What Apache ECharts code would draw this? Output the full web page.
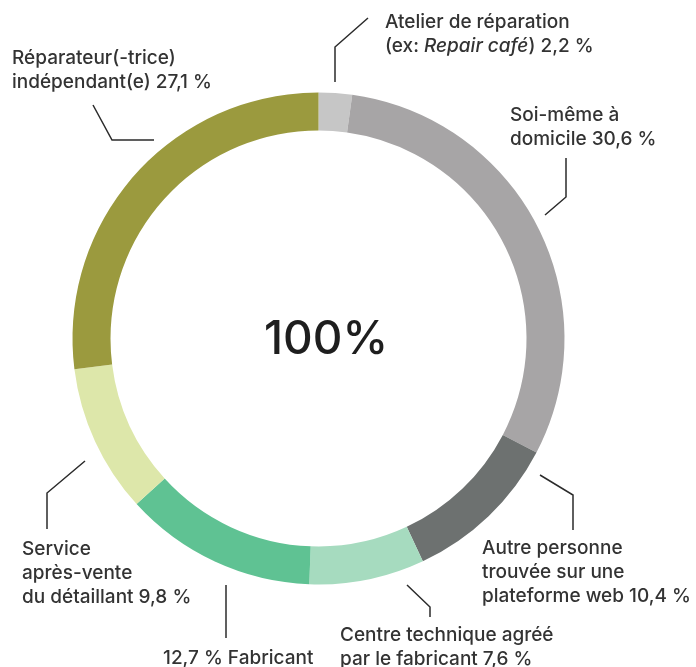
<!DOCTYPE html>
<html>
<head>
<meta charset="utf-8">
<script src="https://cdn.jsdelivr.net/npm/echarts@6/dist/echarts.min.js"></script>
<style>
  html, body { margin: 0; padding: 0; background: #fff; }
  #chart { width: 696px; height: 667px; }
</style>
</head>
<body>
<div id="chart"></div>
<script>
// categories, clockwise from the top
const categories = [
  'Atelier de réparation (ex: Repair café)',
  'Soi-même à domicile',
  'Autre personne trouvée sur une plateforme web',
  'Centre technique agréé par le fabricant',
  'Fabricant',
  'Service après-vente du détaillant',
  'Réparateur(-trice) indépendant(e)'
];
const values = [2.2, 30.6, 10.4, 7.6, 12.7, 9.8, 27.1];
const colors = ['#c6c6c6', '#a7a5a6', '#6d7170', '#a6dbbf', '#5fc293', '#dde7aa', '#9b9a3e'];

// label text, {v} = value
const labelTemplates = [
  'Atelier de réparation\n(ex: {i|Repair café}) {v}',
  'Soi-même à\ndomicile {v}',
  'Autre personne\ntrouvée sur une\nplateforme web {v}',
  'Centre technique agréé\npar le fabricant {v}',
  '{v} Fabricant',
  'Service\naprès-vente\ndu détaillant {v}',
  'Réparateur(-trice)\nindépendant(e) {v}'
];

// top-left of each label block
const labelPos = [[385, 10], [510, 103], [482, 536], [340, 623], [163, 646], [22, 537], [12, 46]];
// leader lines
const leaders = [
  [[335, 82], [335, 47], [368, 18]],
  [[545, 215], [566, 197], [566, 158]],
  [[540, 475], [573, 495], [573, 530]],
  [[407, 585], [430, 607], [430, 617]],
  [[226, 585], [226, 610], [226, 638]],
  [[85, 461], [47, 493], [47, 529]],
  [[154, 140], [112, 140], [93, 105]]
];

const fmt = v => v.toFixed(1).replace('.', ',') + ' %';

var myChart = echarts.init(document.getElementById('chart'));
myChart.setOption({
  animation: false,
  graphic: [{
    type: 'text',
    x: 326,
    y: 340,
    style: {
      text: '100%',
      fontFamily: 'Inter',
      fontSize: 46,
      fontWeight: 500,
      fill: '#1e1e1e',
      align: 'center',
      verticalAlign: 'middle'
    }
  }],
  series: [{
    type: 'pie',
    center: [318.5, 338.5],
    radius: [208, 246],
    startAngle: 90,
    clockwise: true,
    avoidLabelOverlap: false,
    data: values.map((v, i) => ({
      name: categories[i],
      value: v,
      itemStyle: { color: colors[i] }
    })),
    label: {
      show: true,
      position: 'outside',
      formatter: p => labelTemplates[p.dataIndex].replace('{v}', fmt(p.value)),
      fontFamily: 'Inter',
      fontSize: 19,
      fontWeight: 500,
      lineHeight: 24,
      color: '#333',
      align: 'left',
      rich: {
        i: {
          fontFamily: 'Inter',
          fontSize: 19,
          fontWeight: 500,
          lineHeight: 24,
          fontStyle: 'italic',
          color: '#333'
        }
      }
    },
    labelLine: {
      show: true,
      lineStyle: { color: '#2b2b2b', width: 1.5 }
    },
    labelLayout: p => {
      const i = p.dataIndex;
      return {
        x: labelPos[i][0],
        y: labelPos[i][1],
        align: 'left',
        verticalAlign: 'top',
        labelLinePoints: leaders[i]
      };
    }
  }]
});
</script>
</body>
</html>
